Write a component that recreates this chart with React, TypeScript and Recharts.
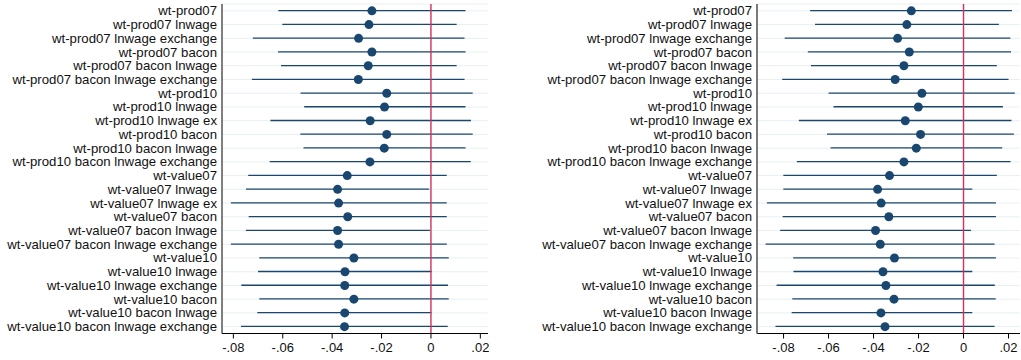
import React from "react";
import {
  ComposedChart, Bar, Line, XAxis, YAxis, CartesianGrid, ReferenceLine,
} from "recharts";

const labels = [
  "wt-prod07",
  "wt-prod07 lnwage",
  "wt-prod07 lnwage exchange",
  "wt-prod07 bacon",
  "wt-prod07 bacon lnwage",
  "wt-prod07 bacon lnwage exchange",
  "wt-prod10",
  "wt-prod10 lnwage",
  "wt-prod10 lnwage ex",
  "wt-prod10 bacon",
  "wt-prod10 bacon lnwage",
  "wt-prod10 bacon lnwage exchange",
  "wt-value07",
  "wt-value07 lnwage",
  "wt-value07 lnwage ex",
  "wt-value07 bacon",
  "wt-value07 bacon lnwage",
  "wt-value07 bacon lnwage exchange",
  "wt-value10",
  "wt-value10 lnwage",
  "wt-value10 lnwage exchange",
  "wt-value10 bacon",
  "wt-value10 bacon lnwage",
  "wt-value10 bacon lnwage exchange",
];

// left panel estimates and confidence bounds
const leftCoef = [
  -0.0239, -0.0251, -0.0293, -0.0239, -0.0254, -0.0294,
  -0.0179, -0.0188, -0.0246, -0.0179, -0.0189, -0.0247,
  -0.0339, -0.0378, -0.0374, -0.0337, -0.0378, -0.0374,
  -0.0312, -0.0348, -0.0349, -0.0312, -0.0349, -0.0350,
];
const leftLo = [
  -0.0618, -0.0602, -0.0721, -0.0619, -0.0607, -0.0725,
  -0.0528, -0.0513, -0.0650, -0.0529, -0.0516, -0.0653,
  -0.0740, -0.0749, -0.0810, -0.0738, -0.0749, -0.0810,
  -0.0695, -0.0700, -0.0768, -0.0695, -0.0703, -0.0769,
];
const leftHi = [
  0.0140, 0.0104, 0.0136, 0.0140, 0.0104, 0.0136,
  0.0169, 0.0140, 0.0162, 0.0169, 0.0140, 0.0161,
  0.0064, -0.0007, 0.0064, 0.0064, -0.0004, 0.0064,
  0.0072, 0.0003, 0.0069, 0.0072, 0.0002, 0.0068,
];

// right panel estimates and confidence bounds
const rightCoef = [
  -0.0232, -0.0252, -0.0293, -0.0241, -0.0265, -0.0304,
  -0.0185, -0.0201, -0.0259, -0.0191, -0.0210, -0.0265,
  -0.0329, -0.0382, -0.0366, -0.0332, -0.0391, -0.0370,
  -0.0307, -0.0358, -0.0345, -0.0309, -0.0367, -0.0349,
];
const rightLo = [
  -0.0682, -0.0660, -0.0795, -0.0692, -0.0678, -0.0806,
  -0.0600, -0.0578, -0.0732, -0.0607, -0.0591, -0.0741,
  -0.0801, -0.0801, -0.0874, -0.0804, -0.0815, -0.0880,
  -0.0757, -0.0756, -0.0831, -0.0761, -0.0764, -0.0836,
];
const rightHi = [
  0.0215, 0.0157, 0.0208, 0.0211, 0.0148, 0.0200,
  0.0228, 0.0175, 0.0213, 0.0224, 0.0172, 0.0209,
  0.0148, 0.0039, 0.0144, 0.0144, 0.0033, 0.0138,
  0.0144, 0.0039, 0.0139, 0.0143, 0.0039, 0.0138,
];

const xTicks = [-0.08, -0.06, -0.04, -0.02, 0, 0.02];

const NAVY = "#1a476f";
const FONT = "'Liberation Sans', Arial, Helvetica, sans-serif";
const LABEL_SIZE = 13.2;

function fmt(v: number) {
  if (v === 0) return "0";
  return v.toFixed(2).replace("0.", ".");
}

function build(coef: number[], lo: number[], hi: number[]) {
  return labels.map((name, i) => ({ name, coef: coef[i], range: [lo[i], hi[i]] }));
}

// plain svg text so long labels never wrap
const NameTick = ({ x, y, payload }: any) => (
  <text
    x={x - 3}
    y={y}
    textAnchor="end"
    dominantBaseline="central"
    fill="#111"
    fontSize={LABEL_SIZE}
    fontFamily={FONT}
  >
    {payload.value}
  </text>
);

interface PanelProps {
  data: any[];
  width: number;
  yWidth: number;
  domain: [number, number];
  axisColor: string;
  axisWidth: number;
}

function Panel({ data, width, yWidth, domain, axisColor, axisWidth }: PanelProps) {
  return (
    <ComposedChart
      width={width}
      height={360}
      data={data}
      layout="vertical"
      margin={{ top: 4, right: 1, bottom: 0, left: 0 }}
      barCategoryGap={0}
    >
      <CartesianGrid horizontal vertical={false} stroke="#e8f0f2" strokeWidth={1} />
      <XAxis
        type="number"
        domain={domain}
        allowDataOverflow
        ticks={xTicks}
        tickFormatter={fmt}
        height={26.5}
        tickSize={5}
        tickMargin={4}
        tick={{ fill: "#111", fontSize: 13, fontFamily: FONT }}
        axisLine={{ stroke: "#000", strokeWidth: 1 }}
        tickLine={{ stroke: "#000", strokeWidth: 1 }}
      />
      <YAxis
        type="category"
        dataKey="name"
        width={yWidth}
        interval={0}
        tickSize={0}
        tick={<NameTick />}
        axisLine={{ stroke: axisColor, strokeWidth: axisWidth }}
        tickLine={false}
      />
      <Bar dataKey="range" fill={NAVY} barSize={1.3} isAnimationActive={false} />
      <ReferenceLine x={0} stroke="#d4305a" strokeWidth={1.4} />
      <Line
        dataKey="coef"
        stroke="none"
        dot={{ r: 4.5, fill: NAVY, stroke: "none" }}
        activeDot={false}
        isAnimationActive={false}
      />
    </ComposedChart>
  );
}

export default function App() {
  const left = build(leftCoef, leftLo, leftHi);
  const right = build(rightCoef, rightLo, rightHi);
  return (
    <div style={{ position: "absolute", left: 0, top: 0, width: 1021, height: 360, background: "#fff" }}>
      <div style={{ position: "absolute", left: 0, top: 0 }}>
        <Panel data={left} width={489} yWidth={222} domain={[-0.0846, 0.0231]} axisColor="#000" axisWidth={1} />
      </div>
      <div style={{ position: "absolute", left: 500, top: 0 }}>
        <Panel data={right} width={521} yWidth={257} domain={[-0.0918, 0.0251]} axisColor="#7a7a7a" axisWidth={2} />
      </div>
    </div>
  );
}
